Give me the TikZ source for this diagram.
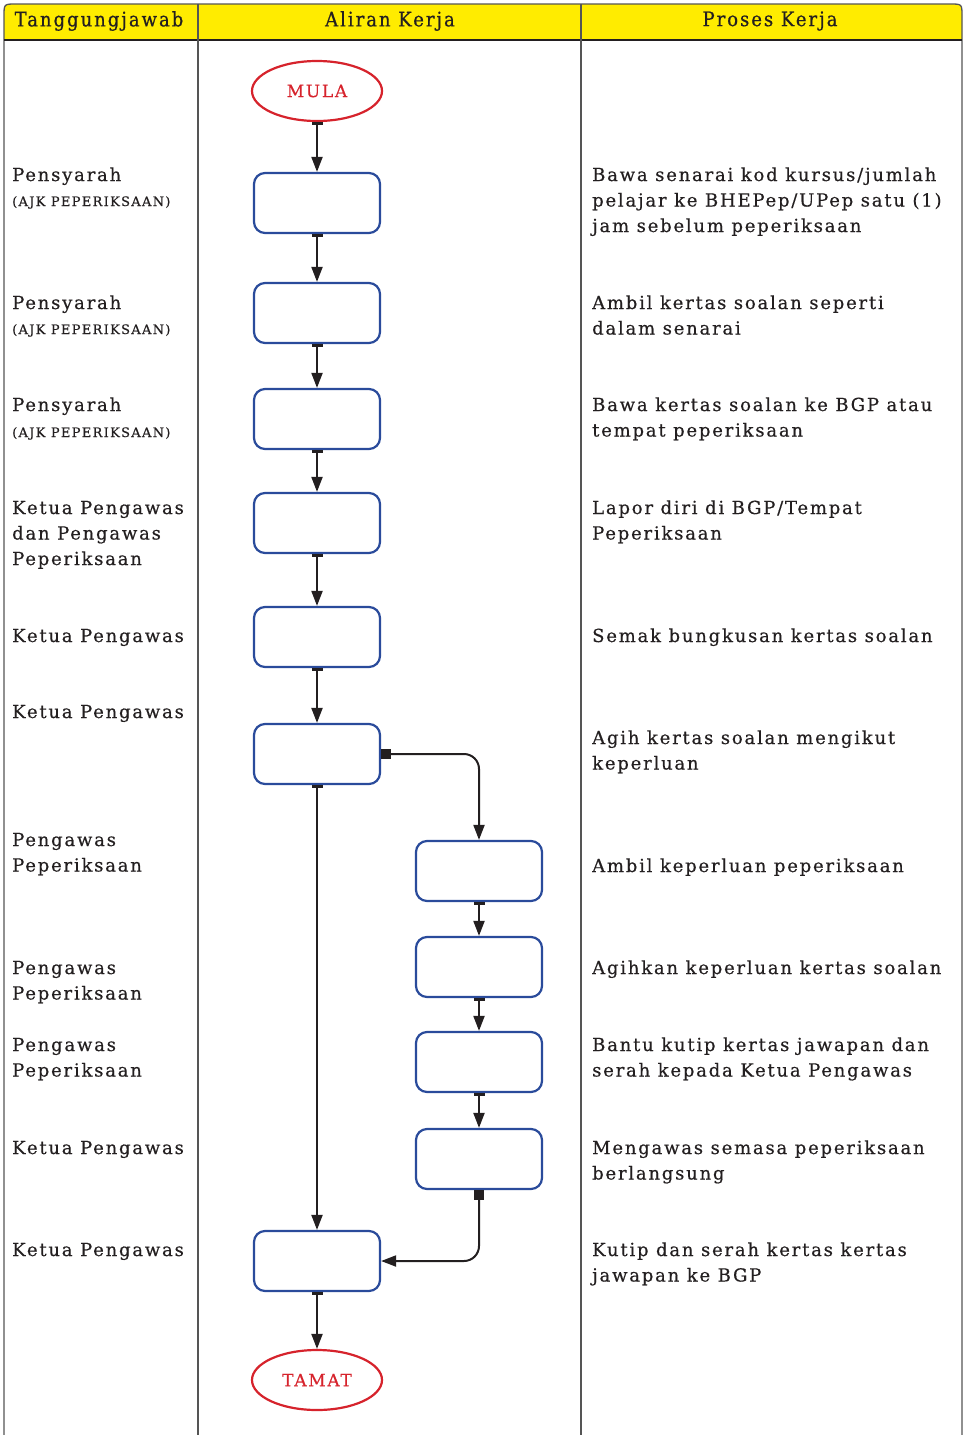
\documentclass[tikz,border=0pt]{standalone}
\usepackage{fontspec}
\setmainfont{DejaVu Serif}[LetterSpace=10,FakeBold=0.5]
\newfontfamily\hdfont{DejaVu Serif}[FakeStretch=0.9,LetterSpace=10,FakeBold=0.6]
\usetikzlibrary{arrows.meta,shapes.geometric}
\definecolor{hdyellow}{HTML}{FFEC00}
\definecolor{boxblue}{HTML}{2A4B9B}
\definecolor{termred}{HTML}{D6232C}
\definecolor{ink}{HTML}{231F20}
\definecolor{rule}{HTML}{555555}
\tikzset{
  x=1pt, y=-1pt,
  stepbox/.style={draw=boxblue, line width=2.2pt, rounded corners=11pt, minimum width=126pt, minimum height=60pt, inner sep=0pt},
  term/.style={ellipse, draw=termred, line width=2.2pt, minimum width=130pt, minimum height=60pt, inner sep=0pt, text=termred, font=\fontsize{17}{20}\selectfont},
  flow/.style={draw=ink, line width=2pt, {Rectangle[length=3pt,width=11pt]}-{Triangle[length=15pt,width=11pt]}},
  branch/.style={draw=ink, line width=2pt, rounded corners=15pt, {Square[length=10pt,width=10pt]}-{Triangle[length=15pt,width=11pt]}},
  lab/.style={anchor=base west, align=left, inner sep=0pt, text=ink, font=\fontsize{18}{25.5}\selectfont},
  sub/.style={anchor=base west, inner sep=0pt, text=ink, font=\fontsize{13}{15}\selectfont},
  hd/.style={inner sep=0pt, text=ink, font=\hdfont\fontsize{20}{22}\selectfont},
}
\begin{document}
\begin{tikzpicture}
\useasboundingbox (0,0) rectangle (963,1435);
% header
\fill[hdyellow] (4,40) -- (4,16) .. controls (4,4) .. (16,4) -- (950,4) .. controls (962,4) .. (962,16) -- (962,40) -- cycle;
\draw[rule, line width=1.3pt] (4,1435) -- (4,16) .. controls (4,4) .. (16,4) -- (950,4) .. controls (962,4) .. (962,16) -- (962,1435);
\draw[ink, line width=1.8pt] (4,40) -- (962,40);
\draw[rule, line width=1.3pt] (198,4) -- (198,1435);
\draw[rule, line width=1.3pt] (581,4) -- (581,1435);
\node[hd] (h1) at (99,21) {Tanggungjawab};
\node[hd] (h2) at (390,21) {Aliran Kerja};
\node[hd] (h3) at (770,21) {Proses Kerja};

% flow nodes
\node[term] (mula) at (317,91) {MULA};
\node[stepbox] (b1) at (317,203) {};
\node[stepbox] (b2) at (317,313) {};
\node[stepbox] (b3) at (317,419) {};
\node[stepbox] (b4) at (317,523) {};
\node[stepbox] (b5) at (317,637) {};
\node[stepbox] (b6) at (317,754) {};
\node[stepbox] (b7) at (479,871) {};
\node[stepbox] (b8) at (479,967) {};
\node[stepbox] (b9) at (479,1062) {};
\node[stepbox] (b10) at (479,1159) {};
\node[stepbox] (b11) at (317,1261) {};
\node[term] (tamat) at (317,1380) {TAMAT};

\draw[flow] (mula) -- (b1);
\draw[flow] (b1) -- (b2);
\draw[flow] (b2) -- (b3);
\draw[flow] (b3) -- (b4);
\draw[flow] (b4) -- (b5);
\draw[flow] (b5) -- (b6);
\draw[flow] (b6) -- (b11);
\draw[branch] (b6.east) -| (b7.north);
\draw[flow] (b7) -- (b8);
\draw[flow] (b8) -- (b9);
\draw[flow] (b9) -- (b10);
\draw[branch] (b10.south) |- (b11.east);
\draw[flow] (b11) -- (tamat);

% left labels (base anchor = last line)
\node[lab] (l1) at (12,181) {Pensyarah};
\node[sub] (l1s) at (12,206) {(AJK PEPERIKSAAN)};
\node[lab] (l2) at (12,309) {Pensyarah};
\node[sub] (l2s) at (12,334) {(AJK PEPERIKSAAN)};
\node[lab] (l3) at (12,411) {Pensyarah};
\node[sub] (l3s) at (12,437) {(AJK PEPERIKSAAN)};
\node[lab] (l4) at (12,565) {Ketua Pengawas\\dan Pengawas\\Peperiksaan};
\node[lab] (l5) at (12,642) {Ketua Pengawas};
\node[lab] (l6) at (12,718) {Ketua Pengawas};
\node[lab] (l7) at (12,871.5) {Pengawas\\Peperiksaan};
\node[lab] (l8) at (12,999.5) {Pengawas\\Peperiksaan};
\node[lab] (l9) at (12,1076.5) {Pengawas\\Peperiksaan};
\node[lab] (l10) at (12,1154) {Ketua Pengawas};
\node[lab] (l11) at (12,1256) {Ketua Pengawas};

% right labels
\node[lab] (r1) at (592,232) {Bawa senarai kod kursus/jumlah\\pelajar ke BHEPep/UPep satu (1)\\jam sebelum peperiksaan};
\node[lab] (r2) at (592,334.5) {Ambil kertas soalan seperti\\dalam senarai};
\node[lab] (r3) at (592,436.5) {Bawa kertas soalan ke BGP atau\\tempat peperiksaan};
\node[lab] (r4) at (592,539.5) {Lapor diri di BGP/Tempat\\Peperiksaan};
\node[lab] (r5) at (592,642) {Semak bungkusan kertas soalan};
\node[lab] (r6) at (592,769.5) {Agih kertas soalan mengikut\\keperluan};
\node[lab] (r7) at (592,872) {Ambil keperluan peperiksaan};
\node[lab] (r8) at (592,974) {Agihkan keperluan kertas soalan};
\node[lab] (r9) at (592,1076.5) {Bantu kutip kertas jawapan dan\\serah kepada Ketua Pengawas};
\node[lab] (r10) at (592,1179.5) {Mengawas semasa peperiksaan\\berlangsung};
\node[lab] (r11) at (592,1281.5) {Kutip dan serah kertas kertas\\jawapan ke BGP};
\end{tikzpicture}
\end{document}
